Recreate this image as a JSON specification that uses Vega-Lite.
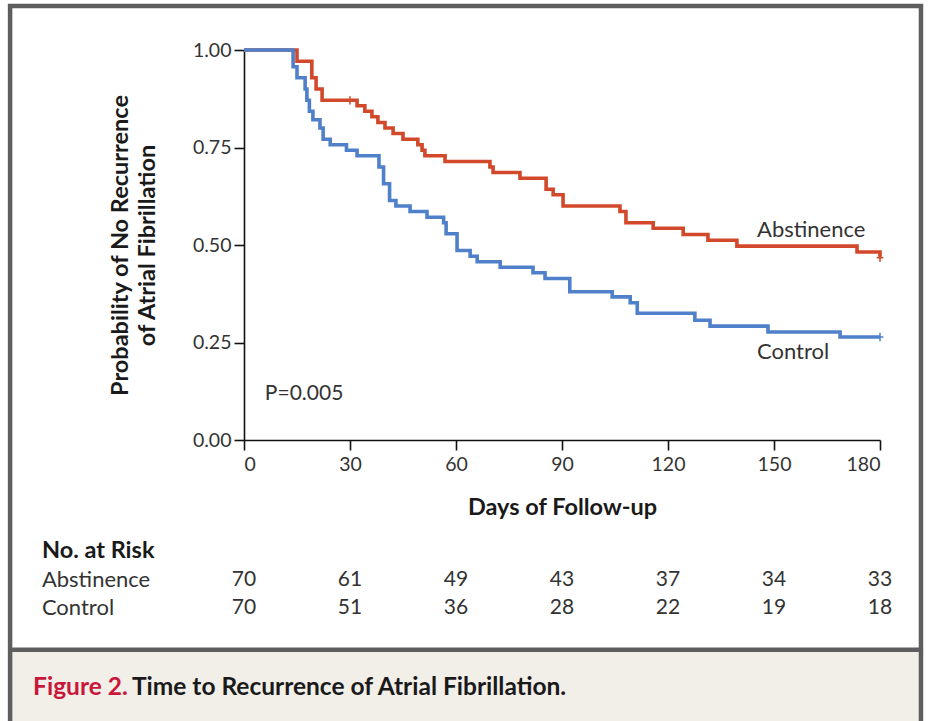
{
  "$schema": "https://vega.github.io/schema/vega-lite/v6.json",
  "width": 636,
  "height": 390,
  "autosize": {"type": "none"},
  "padding": {"left": 244, "top": 50, "right": 48, "bottom": 281},
  "background": "white",
  "config": {
    "font": "Lato",
    "view": {"stroke": null},
    "axis": {
      "grid": false,
      "domainColor": "#111111",
      "domainWidth": 1.6,
      "tickColor": "#111111",
      "tickWidth": 1.6,
      "tickSize": 10,
      "labelFont": "Lato",
      "labelFontSize": 19.5,
      "labelColor": "#333333",
      "titleFont": "Lato",
      "titleFontSize": 23.5,
      "titleFontWeight": "bold",
      "titleColor": "#1a1a1a"
    },
    "text": {"font": "Lato", "color": "#333333"}
  },
  "datasets": {
    "km": [
      {"group": "Abstinence", "day": 0, "surv": 1.0},
      {"group": "Abstinence", "day": 15.0, "surv": 0.971},
      {"group": "Abstinence", "day": 19.2, "surv": 0.929},
      {"group": "Abstinence", "day": 20.4, "surv": 0.9},
      {"group": "Abstinence", "day": 22.1, "surv": 0.871},
      {"group": "Abstinence", "day": 32.0, "surv": 0.857},
      {"group": "Abstinence", "day": 34.2, "surv": 0.843},
      {"group": "Abstinence", "day": 36.2, "surv": 0.829},
      {"group": "Abstinence", "day": 37.9, "surv": 0.814},
      {"group": "Abstinence", "day": 39.9, "surv": 0.8},
      {"group": "Abstinence", "day": 42.2, "surv": 0.786},
      {"group": "Abstinence", "day": 45.0, "surv": 0.771},
      {"group": "Abstinence", "day": 49.2, "surv": 0.757},
      {"group": "Abstinence", "day": 50.4, "surv": 0.743},
      {"group": "Abstinence", "day": 51.2, "surv": 0.729},
      {"group": "Abstinence", "day": 56.9, "surv": 0.714},
      {"group": "Abstinence", "day": 69.6, "surv": 0.7},
      {"group": "Abstinence", "day": 70.5, "surv": 0.686},
      {"group": "Abstinence", "day": 78.1, "surv": 0.671},
      {"group": "Abstinence", "day": 85.5, "surv": 0.643},
      {"group": "Abstinence", "day": 87.5, "surv": 0.629},
      {"group": "Abstinence", "day": 90.3, "surv": 0.6},
      {"group": "Abstinence", "day": 106.4, "surv": 0.586},
      {"group": "Abstinence", "day": 108.1, "surv": 0.557},
      {"group": "Abstinence", "day": 115.8, "surv": 0.543},
      {"group": "Abstinence", "day": 124.3, "surv": 0.527},
      {"group": "Abstinence", "day": 131.3, "surv": 0.512},
      {"group": "Abstinence", "day": 139.5, "surv": 0.497},
      {"group": "Abstinence", "day": 173.5, "surv": 0.482},
      {"group": "Abstinence", "day": 180, "surv": 0.467},
      {"group": "Control", "day": 0, "surv": 1.0},
      {"group": "Control", "day": 13.9, "surv": 0.957},
      {"group": "Control", "day": 15.0, "surv": 0.929},
      {"group": "Control", "day": 17.3, "surv": 0.9},
      {"group": "Control", "day": 17.8, "surv": 0.871},
      {"group": "Control", "day": 18.5, "surv": 0.843},
      {"group": "Control", "day": 19.5, "surv": 0.821},
      {"group": "Control", "day": 21.5, "surv": 0.8},
      {"group": "Control", "day": 22.4, "surv": 0.771},
      {"group": "Control", "day": 24.4, "surv": 0.757},
      {"group": "Control", "day": 29.0, "surv": 0.743},
      {"group": "Control", "day": 32.0, "surv": 0.729},
      {"group": "Control", "day": 38.2, "surv": 0.7},
      {"group": "Control", "day": 39.5, "surv": 0.657},
      {"group": "Control", "day": 41.2, "surv": 0.614},
      {"group": "Control", "day": 43.0, "surv": 0.6},
      {"group": "Control", "day": 47.0, "surv": 0.586},
      {"group": "Control", "day": 51.8, "surv": 0.571},
      {"group": "Control", "day": 56.5, "surv": 0.557},
      {"group": "Control", "day": 57.2, "surv": 0.529},
      {"group": "Control", "day": 60.3, "surv": 0.486},
      {"group": "Control", "day": 64.0, "surv": 0.471},
      {"group": "Control", "day": 66.0, "surv": 0.457},
      {"group": "Control", "day": 72.5, "surv": 0.443},
      {"group": "Control", "day": 81.8, "surv": 0.429},
      {"group": "Control", "day": 85.2, "surv": 0.414},
      {"group": "Control", "day": 92.2, "surv": 0.38},
      {"group": "Control", "day": 104.2, "surv": 0.367},
      {"group": "Control", "day": 109.3, "surv": 0.352},
      {"group": "Control", "day": 111.3, "surv": 0.325},
      {"group": "Control", "day": 127.6, "surv": 0.307},
      {"group": "Control", "day": 131.9, "surv": 0.292},
      {"group": "Control", "day": 148.3, "surv": 0.277},
      {"group": "Control", "day": 168.7, "surv": 0.264},
      {"group": "Control", "day": 180, "surv": 0.264}
    ],
    "censored": [
      {"group": "Abstinence", "day": 30, "surv": 0.871},
      {"group": "Abstinence", "day": 180, "surv": 0.467},
      {"group": "Control", "day": 180, "surv": 0.264}
    ],
    "risk": [
      {"group": "Abstinence", "day": 0, "n": 70},
      {"group": "Abstinence", "day": 30, "n": 61},
      {"group": "Abstinence", "day": 60, "n": 49},
      {"group": "Abstinence", "day": 90, "n": 43},
      {"group": "Abstinence", "day": 120, "n": 37},
      {"group": "Abstinence", "day": 150, "n": 34},
      {"group": "Abstinence", "day": 180, "n": 33},
      {"group": "Control", "day": 0, "n": 70},
      {"group": "Control", "day": 30, "n": 51},
      {"group": "Control", "day": 60, "n": 36},
      {"group": "Control", "day": 90, "n": 28},
      {"group": "Control", "day": 120, "n": 22},
      {"group": "Control", "day": 150, "n": 19},
      {"group": "Control", "day": 180, "n": 18}
    ]
  },
  "layer": [
    {
      "layer": [
        {
          "data": {"values": [{}]},
          "mark": {"type": "rect", "fill": "#f2eee8"},
          "encoding": {
            "x": {"datum": -66.2, "type": "quantitative", "scale": {"domain": [0, 180], "nice": false}},
            "x2": {"datum": 191.6},
            "y": {"datum": -0.538, "type": "quantitative", "scale": {"domain": [0, 1], "nice": false}},
            "y2": {"datum": -0.8}
          }
        },
        {
          "data": {"values": [{}]},
          "mark": {"type": "rect", "fill": null, "stroke": "#5e5e5e", "strokeWidth": 4.5},
          "encoding": {
            "x": {"datum": -66.2, "type": "quantitative", "scale": {"domain": [0, 180], "nice": false}},
            "x2": {"datum": 191.6},
            "y": {"datum": 1.1128, "type": "quantitative", "scale": {"domain": [0, 1], "nice": false}},
            "y2": {"datum": -0.8}
          }
        },
        {
          "data": {"values": [{}]},
          "mark": {"type": "rule", "stroke": "#5e5e5e", "strokeWidth": 4.5},
          "encoding": {
            "x": {"datum": -66.2, "type": "quantitative", "scale": {"domain": [0, 180], "nice": false}},
            "x2": {"datum": 191.6},
            "y": {"datum": -0.538, "type": "quantitative", "scale": {"domain": [0, 1], "nice": false}}
          }
        },
        {
          "data": {"name": "km"},
          "mark": {"type": "line", "interpolate": "step-after", "strokeWidth": 3.6, "strokeJoin": "miter", "strokeCap": "butt"},
          "encoding": {
            "x": {
              "field": "day", "type": "quantitative",
              "scale": {"domain": [0, 180], "nice": false},
              "axis": {"values": [0, 30, 60, 90, 120, 150, 180], "title": "Days of Follow-up", "labelPadding": 5, "titlePadding": 22}
            },
            "y": {
              "field": "surv", "type": "quantitative",
              "scale": {"domain": [0, 1], "nice": false},
              "axis": {
                "values": [0, 0.25, 0.5, 0.75, 1],
                "format": ".2f",
                "labelPadding": 3,
                "title": ["Probability of No Recurrence", "of Atrial Fibrillation"],
                "titleLineHeight": 27,
                "titlePadding": 33
              }
            },
            "color": {
              "field": "group", "type": "nominal",
              "scale": {"domain": ["Abstinence", "Control"], "range": ["#d2482b", "#4f80c9"]},
              "legend": null
            },
            "order": {"field": "day", "type": "quantitative"}
          }
        },
        {
          "data": {"name": "censored"},
          "mark": {"type": "point", "shape": "M0,-1V1M-0.8,0H0.8", "filled": false, "strokeWidth": 1.5, "size": 70, "opacity": 1},
          "encoding": {
            "x": {"field": "day", "type": "quantitative", "scale": {"domain": [0, 180], "nice": false}},
            "y": {"field": "surv", "type": "quantitative", "scale": {"domain": [0, 1], "nice": false}},
            "color": {"field": "group", "type": "nominal", "legend": null}
          }
        },
        {
          "data": {"values": [{"label": "Abstinence"}]},
          "mark": {"type": "text", "align": "left", "baseline": "middle", "fontSize": 22},
          "encoding": {
            "x": {"datum": 145.2, "type": "quantitative", "scale": {"domain": [0, 180], "nice": false}},
            "y": {"datum": 0.538, "type": "quantitative", "scale": {"domain": [0, 1], "nice": false}},
            "text": {"field": "label"}
          }
        },
        {
          "data": {"values": [{"label": "Control"}]},
          "mark": {"type": "text", "align": "left", "baseline": "middle", "fontSize": 22},
          "encoding": {
            "x": {"datum": 145.2, "type": "quantitative", "scale": {"domain": [0, 180], "nice": false}},
            "y": {"datum": 0.226, "type": "quantitative", "scale": {"domain": [0, 1], "nice": false}},
            "text": {"field": "label"}
          }
        },
        {
          "data": {"values": [{"label": "P=0.005"}]},
          "mark": {"type": "text", "align": "left", "baseline": "middle", "fontSize": 21},
          "encoding": {
            "x": {"datum": 5.9, "type": "quantitative", "scale": {"domain": [0, 180], "nice": false}},
            "y": {"datum": 0.118, "type": "quantitative", "scale": {"domain": [0, 1], "nice": false}},
            "text": {"field": "label"}
          }
        },
        {
          "data": {"values": [{"label": "Figure 2."}]},
          "mark": {"type": "text", "align": "left", "baseline": "middle", "fontSize": 24.5, "fontWeight": "bold", "color": "#c8173a"},
          "encoding": {
            "x": {"datum": -59.7, "type": "quantitative", "scale": {"domain": [0, 180], "nice": false}},
            "y": {"datum": -0.636, "type": "quantitative", "scale": {"domain": [0, 1], "nice": false}},
            "text": {"field": "label"}
          }
        },
        {
          "data": {"values": [{"label": "Time to Recurrence of Atrial Fibrillation."}]},
          "mark": {"type": "text", "align": "left", "baseline": "middle", "fontSize": 24.5, "fontWeight": "bold", "color": "#1a1a1a"},
          "encoding": {
            "x": {"datum": -31.7, "type": "quantitative", "scale": {"domain": [0, 180], "nice": false}},
            "y": {"datum": -0.636, "type": "quantitative", "scale": {"domain": [0, 1], "nice": false}},
            "text": {"field": "label"}
          }
        }
      ]
    },
    {
      "layer": [
        {
          "data": {"name": "risk"},
          "mark": {"type": "text", "align": "center", "baseline": "middle", "fontSize": 21},
          "encoding": {
            "x": {"field": "day", "type": "quantitative", "scale": {"domain": [0, 180], "nice": false}},
            "y": {
              "field": "group", "type": "nominal",
              "scale": {"type": "point", "domain": ["No. at Risk", "Abstinence", "Control"], "range": [501, 558], "padding": 0},
              "axis": null
            },
            "text": {"field": "n", "type": "quantitative"}
          }
        },
        {
          "data": {"name": "risk"},
          "transform": [{"filter": "datum.day === 0"}],
          "mark": {"type": "text", "align": "left", "baseline": "middle", "fontSize": 22},
          "encoding": {
            "x": {"datum": -57.2, "type": "quantitative", "scale": {"domain": [0, 180], "nice": false}},
            "y": {"field": "group", "type": "nominal", "axis": null},
            "text": {"field": "group"}
          }
        },
        {
          "data": {"values": [{"group": "No. at Risk"}]},
          "mark": {"type": "text", "align": "left", "baseline": "middle", "fontSize": 23.5, "fontWeight": "bold", "color": "#1a1a1a"},
          "encoding": {
            "x": {"datum": -57.2, "type": "quantitative", "scale": {"domain": [0, 180], "nice": false}},
            "y": {"field": "group", "type": "nominal", "axis": null},
            "text": {"field": "group"}
          }
        }
      ]
    }
  ],
  "resolve": {"scale": {"y": "independent", "color": "shared"}}
}
